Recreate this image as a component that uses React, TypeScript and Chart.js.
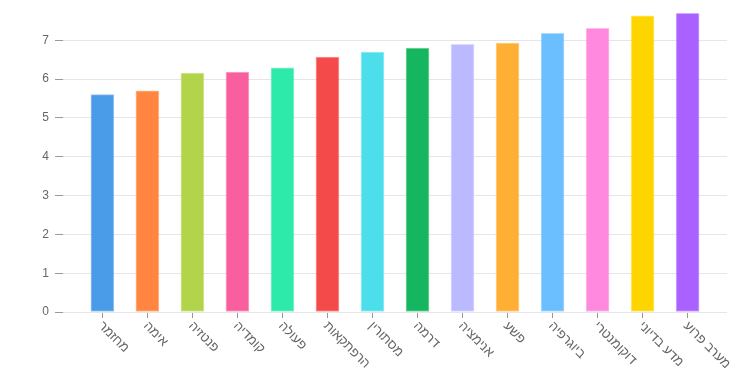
import React, { useEffect, useRef } from "react";
import { Chart, registerables } from "chart.js";

Chart.register(...registerables);

const categories = [
  "מחזמר",
  "אימה",
  "פנטזיה",
  "קומדיה",
  "פעולה",
  "הרפתקאות",
  "מסתורין",
  "דרמה",
  "אנימציה",
  "פשע",
  "ביוגרפיה",
  "דוקומנטרי",
  "מדע בדיוני",
  "מערב פרוע",
];

const ratings = [5.6, 5.7, 6.16, 6.18, 6.29, 6.57, 6.7, 6.8, 6.9, 6.93, 7.18, 7.31, 7.63, 7.7];

const barColors = [
  "#4a9be8",
  "#ff8540",
  "#b2d34a",
  "#f95f9e",
  "#2eeaaa",
  "#f44a4a",
  "#4ddeec",
  "#16b661",
  "#bbb9ff",
  "#ffaf33",
  "#6cbfff",
  "#ff89df",
  "#ffd500",
  "#a962ff",
];

const yTicks = [0, 1, 2, 3, 4, 5, 6, 7];

const FONT = "'Liberation Sans', Arial, sans-serif";

function withAlpha(hex: string, a: number) {
  const r = parseInt(hex.slice(1, 3), 16);
  const g = parseInt(hex.slice(3, 5), 16);
  const b = parseInt(hex.slice(5, 7), 16);
  return `rgba(${r},${g},${b},${a})`;
}

const xLabelPlugin = {
  id: "xLabelPlugin",
  afterDraw(chart: any) {
    const xScale = chart.scales.x;
    const ctx = chart.ctx;
    ctx.save();
    ctx.font = `13px ${FONT}`;
    ctx.fillStyle = "#666";
    ctx.textAlign = "left";
    ctx.textBaseline = "middle";
    categories.forEach((label, i) => {
      const x = xScale.getPixelForValue(i);
      const y = xScale.top + 6 + 6;
      ctx.save();
      ctx.translate(x - 2, y);
      ctx.rotate(Math.PI / 4);
      ctx.fillText(label, 0, 0);
      ctx.restore();
    });
    ctx.restore();
  },
};

export default function App() {
  const canvasRef = useRef<HTMLCanvasElement | null>(null);

  useEffect(() => {
    if (!canvasRef.current) return;
    const chart = new Chart(canvasRef.current, {
      type: "bar",
      data: {
        datasets: [
          {
            data: ratings.map((v, i) => ({ x: i, y: v })),
            backgroundColor: barColors,
            borderColor: barColors.map((c) => withAlpha(c, 0.55)),
            borderWidth: 1,
            borderSkipped: false,
            barThickness: 23,
          },
        ],
      },
      options: {
        animation: false,
        responsive: true,
        maintainAspectRatio: false,
        layout: { padding: { top: 12, right: 13, bottom: 0, left: 0 } },
        plugins: {
          legend: { display: false },
          tooltip: { enabled: false },
        },
        scales: {
          x: {
            type: "linear",
            offset: false,
            min: -0.875,
            max: 13.875,
            afterBuildTicks: (scale: any) => {
              scale.ticks = categories.map((_, i) => ({ value: i }));
            },
            afterFit: (scale: any) => {
              scale.height = 63;
            },
            ticks: { display: false },
            grid: {
              offset: false,
              drawOnChartArea: false,
              drawTicks: true,
              tickLength: 6,
              tickColor: "#999",
            },
            border: { display: false },
          },
          y: {
            type: "linear",
            min: 0,
            max: 7.7,
            afterBuildTicks: (scale: any) => {
              scale.ticks = yTicks.map((v) => ({ value: v }));
            },
            afterFit: (scale: any) => {
              scale.width = 63;
            },
            ticks: {
              color: "#666",
              padding: 6,
              font: { size: 12, family: FONT },
            },
            grid: {
              color: "#e6e6e6",
              tickColor: "#999",
              tickLength: 8,
            },
            border: { display: false },
          },
        },
      },
      plugins: [xLabelPlugin],
    });
    return () => chart.destroy();
  }, []);

  return (
    <div style={{ position: "fixed", left: 0, top: 0, width: 740, height: 375 }}>
      <canvas ref={canvasRef} />
    </div>
  );
}
